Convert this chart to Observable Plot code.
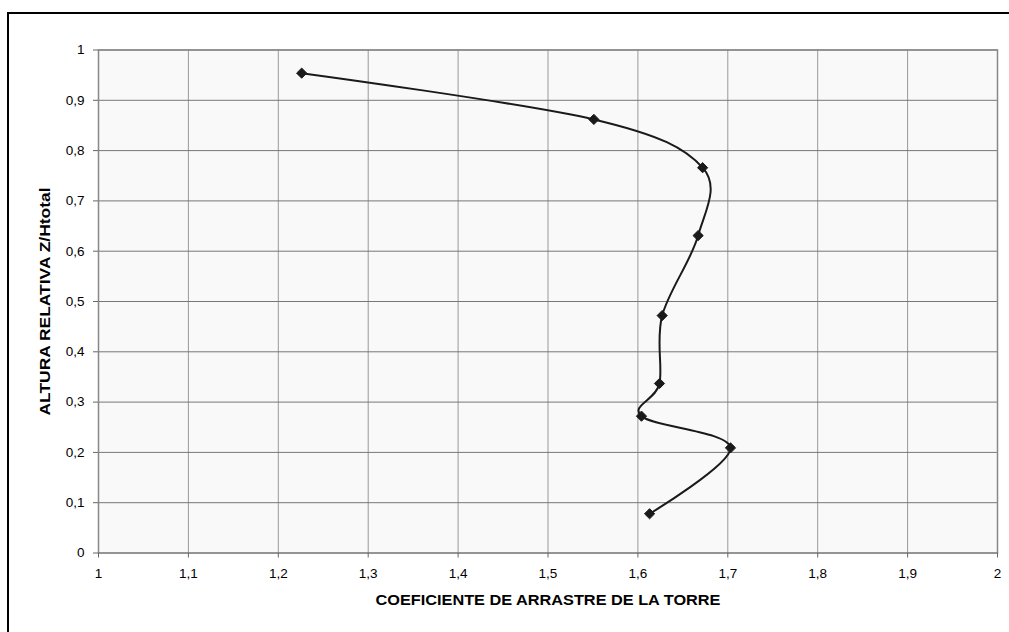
<!DOCTYPE html>
<html>
<head>
<meta charset="utf-8">
<script src="https://cdn.jsdelivr.net/npm/d3@7"></script>
<script src="https://cdn.jsdelivr.net/npm/@observablehq/plot@0.6"></script>
<style>
  html, body { margin: 0; padding: 0; background: #fff; overflow: hidden; }
  #wrap { position: relative; width: 1009px; height: 632px; overflow: hidden; }
  #border { position: absolute; left: 7px; top: 12px; width: 1100px; height: 700px; border-left: 2.5px solid #000; border-top: 2.5px solid #000; box-sizing: border-box; pointer-events: none; }
</style>
</head>
<body>
<div id="wrap"><div id="border"></div></div>
<script>
const coef = [1.226, 1.551, 1.672, 1.667, 1.627, 1.624, 1.604, 1.703, 1.613];
const relHeight = [0.954, 0.862, 0.766, 0.631, 0.472, 0.337, 0.272, 0.209, 0.078];
const xTicks = [1, 1.1, 1.2, 1.3, 1.4, 1.5, 1.6, 1.7, 1.8, 1.9, 2];
const yTicks = [0, 0.1, 0.2, 0.3, 0.4, 0.5, 0.6, 0.7, 0.8, 0.9, 1];
const xLabel = "COEFICIENTE DE ARRASTRE DE LA TORRE";
const yLabel = "ALTURA RELATIVA Z/Htotal";

const data = coef.map((c, i) => ({coef: c, h: relHeight[i]}));
const fmt = d => String(d).replace(".", ",");

const chart = Plot.plot({
  width: 1009,
  height: 632,
  marginLeft: 98,
  marginRight: 12,
  marginTop: 49.5,
  marginBottom: 79.5,
  style: {fontFamily: "'Liberation Sans', Arial, sans-serif", fontSize: "13.5px", color: "#000", background: "transparent", overflow: "hidden"},
  x: {domain: [1, 2], ticks: xTicks, tickFormat: fmt},
  y: {domain: [0, 1], ticks: yTicks, tickFormat: fmt},
  marks: [
    Plot.frame({fill: "#f9f9f9"}),
    Plot.gridX(xTicks, {stroke: "#999", strokeOpacity: 1, strokeWidth: 1}),
    Plot.gridY(yTicks, {stroke: "#777", strokeOpacity: 1, strokeWidth: 1}),
    Plot.frame({stroke: "#888", strokeWidth: 1.5}),
    Plot.axisX(xTicks, {tickFormat: fmt, tickSize: 5, tickPadding: 10, stroke: "#666", fontSize: 13.5,
      label: xLabel, labelAnchor: "center", labelArrow: false, labelOffset: 52}),
    Plot.axisY(yTicks, {tickFormat: fmt, tickSize: 5, tickPadding: 9, stroke: "#666", fontSize: 13.5,
      label: yLabel, labelAnchor: "center", labelArrow: false, labelOffset: 58}),
    Plot.line(data, {x: "coef", y: "h", curve: "cardinal", stroke: "#1a1a1a", strokeWidth: 2}),
    Plot.dot(data, {x: "coef", y: "h", symbol: "diamond2", r: 4.6, fill: "#1a1a1a", stroke: "#1a1a1a", strokeWidth: 1})
  ]
});
const sel = d3.select(chart);
sel.selectAll("[aria-label='x-axis tick label'] text, [aria-label='y-axis tick label'] text")
  .style("font-size", "13.5px");
sel.selectAll("[aria-label='x-axis label'] text")
  .style("font-weight", "bold").style("font-size", "14px")
  .attr("textLength", 345).attr("lengthAdjust", "spacingAndGlyphs");
sel.selectAll("[aria-label='y-axis label'] text")
  .style("font-weight", "bold").style("font-size", "14px")
  .attr("textLength", 228).attr("lengthAdjust", "spacingAndGlyphs");
chart.style.position = "absolute";
chart.style.left = "0px";
chart.style.top = "0px";
document.getElementById("wrap").prepend(chart);
</script>
</body>
</html>
